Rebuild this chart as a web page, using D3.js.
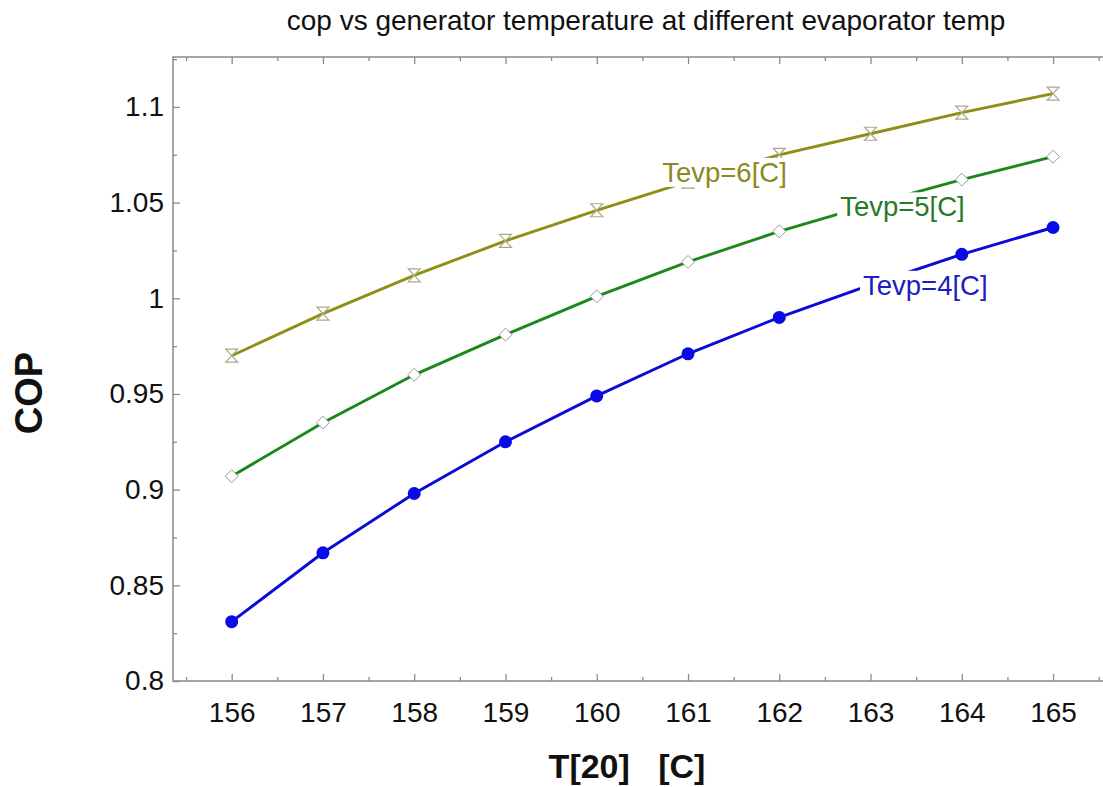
<!DOCTYPE html>
<html>
<head>
<meta charset="utf-8">
<script src="https://cdn.jsdelivr.net/npm/d3@7"></script>
<style>
  body { margin: 0; background: #fff; }
  svg { font-family: "Liberation Sans", Arial, sans-serif; }
</style>
</head>
<body>
<svg width="1103" height="787"></svg>
<script>
// generator temperature T[20] in C
var temps = [156, 157, 158, 159, 160, 161, 162, 163, 164, 165];
// COP for each evaporator temperature
var cop4 = [0.831, 0.867, 0.898, 0.925, 0.949, 0.971, 0.990, 1.007, 1.023, 1.037];
var cop5 = [0.907, 0.935, 0.960, 0.981, 1.001, 1.019, 1.035, 1.049, 1.062, 1.074];
var cop6 = [0.970, 0.992, 1.012, 1.030, 1.046, 1.061, 1.075, 1.086, 1.097, 1.107];
var seriesNames = ['Tevp=4[C]', 'Tevp=5[C]', 'Tevp=6[C]'];
// where the in-plot labels sit (data units)
var labelX = [163.6, 163.35, 161.4];
var labelY = [1.007, 1.048, 1.066];
var yTicks = [0.8, 0.85, 0.9, 0.95, 1, 1.05, 1.1];

var series = [
    {name: seriesNames[0], values: cop4, line: '#0b0bd8', text: '#1c1cc0', marker: 'circle'},
    {name: seriesNames[1], values: cop5, line: '#1b881b', text: '#267a26', marker: 'diamond'},
    {name: seriesNames[2], values: cop6, line: '#8f8f18', text: '#8a8a22', marker: 'hourglass'}
];

var svg = d3.select('svg');
var pl = 173, pt = 57, pr = 1106, pb = 681;

var x = d3.scaleLinear().domain([155.357, 165.58]).range([pl, pr]);
var y = d3.scaleLinear().domain([0.8, 1.1261]).range([pb, pt]);

var minorX = d3.range(155.5, 166, 1);
var minorY = d3.range(0.825, 1.125, 0.05);

// frame
svg.append('rect')
    .attr('x', pl).attr('y', pt)
    .attr('width', pr - pl).attr('height', pb - pt)
    .attr('fill', 'none').attr('stroke', '#8a8a8a').attr('stroke-width', 1.5);

function styleAxis(g) {
    g.select('.domain').remove();
    g.selectAll('.tick line').attr('stroke', '#8a8a8a').attr('stroke-width', 1.3);
    g.selectAll('text').attr('fill', '#111').style('font-size', '28px')
        .style('font-family', '"Liberation Sans", Arial, sans-serif');
}

// bottom axis
svg.append('g').attr('transform', 'translate(0,' + pb + ')')
    .call(d3.axisBottom(x).tickValues(temps).tickSize(-7).tickPadding(21).tickFormat(d3.format('d')))
    .call(styleAxis);
svg.append('g').attr('transform', 'translate(0,' + pb + ')')
    .call(d3.axisBottom(x).tickValues(minorX).tickSize(-4).tickFormat(''))
    .call(styleAxis);
// top axis
svg.append('g').attr('transform', 'translate(0,' + pt + ')')
    .call(d3.axisTop(x).tickValues(temps).tickSize(-7).tickFormat(''))
    .call(styleAxis);
svg.append('g').attr('transform', 'translate(0,' + pt + ')')
    .call(d3.axisTop(x).tickValues(minorX).tickSize(-4).tickFormat(''))
    .call(styleAxis);
// left axis
svg.append('g').attr('transform', 'translate(' + pl + ',0)')
    .call(d3.axisLeft(y).tickValues(yTicks).tickSize(-7).tickPadding(9).tickFormat(d => String(+d.toFixed(2))))
    .call(styleAxis);
svg.append('g').attr('transform', 'translate(' + pl + ',0)')
    .call(d3.axisLeft(y).tickValues(minorY).tickSize(-4).tickFormat(''))
    .call(styleAxis);

// lines
var line = d3.line().x((d, i) => x(temps[i])).y(d => y(d));
series.forEach(function(s) {
    svg.append('path')
        .datum(s.values)
        .attr('d', line)
        .attr('fill', 'none')
        .attr('stroke', s.line)
        .attr('stroke-width', 2.9);
});

// markers
function markerPath(type) {
    if (type === 'diamond') return 'M0,-6.5L6.5,0L0,6.5L-6.5,0Z';
    if (type === 'hourglass') return 'M-6,-6.5L6,-6.5L0,0L6,6.5L-6,6.5L0,0Z';
    return null;
}
series.forEach(function(s) {
    var g = svg.append('g');
    var pts = g.selectAll('g').data(s.values).enter().append('g')
        .attr('transform', (d, i) => 'translate(' + x(temps[i]) + ',' + y(d) + ')');
    if (s.marker === 'circle') {
        pts.append('circle').attr('r', 6.5).attr('fill', '#0a0ae6');
    } else if (s.marker === 'diamond') {
        pts.append('path').attr('d', markerPath('diamond'))
            .attr('fill', '#fff').attr('stroke', '#9a9a9a').attr('stroke-width', 1);
    } else {
        pts.append('path').attr('d', markerPath('hourglass'))
            .attr('fill', '#fff').attr('fill-opacity', 0.6)
            .attr('stroke', '#aaaa88').attr('stroke-width', 1.2);
    }
});

// in-plot labels with white background that break the lines
series.forEach(function(s, i) {
    var g = svg.append('g');
    var t = g.append('text')
        .attr('x', x(labelX[i]))
        .attr('y', y(labelY[i]))
        .attr('text-anchor', 'middle')
        .attr('dy', '0.36em')
        .attr('fill', s.text)
        .style('font-size', '27.5px')
        .text(s.name);
    var b = t.node().getBBox();
    g.insert('rect', 'text')
        .attr('x', b.x - 3).attr('y', b.y + 1)
        .attr('width', b.width + 6).attr('height', b.height - 2)
        .attr('fill', '#fff');
});

// title
svg.append('text')
    .attr('x', 646).attr('y', 30)
    .attr('text-anchor', 'middle')
    .attr('fill', '#111')
    .style('font-size', '28px')
    .text('cop vs generator temperature at different evaporator temp');

// axis titles
svg.append('text')
    .attr('x', 627).attr('y', 778)
    .attr('text-anchor', 'middle')
    .attr('fill', '#111')
    .style('font-size', '34px').style('font-weight', 'bold')
    .style('white-space', 'pre')
    .text('T[20]   [C]');
svg.append('text')
    .attr('transform', 'translate(42,393) rotate(-90)')
    .attr('text-anchor', 'middle')
    .attr('fill', '#111')
    .style('font-size', '38px').style('font-weight', 'bold')
    .text('COP');
</script>
</body>
</html>
